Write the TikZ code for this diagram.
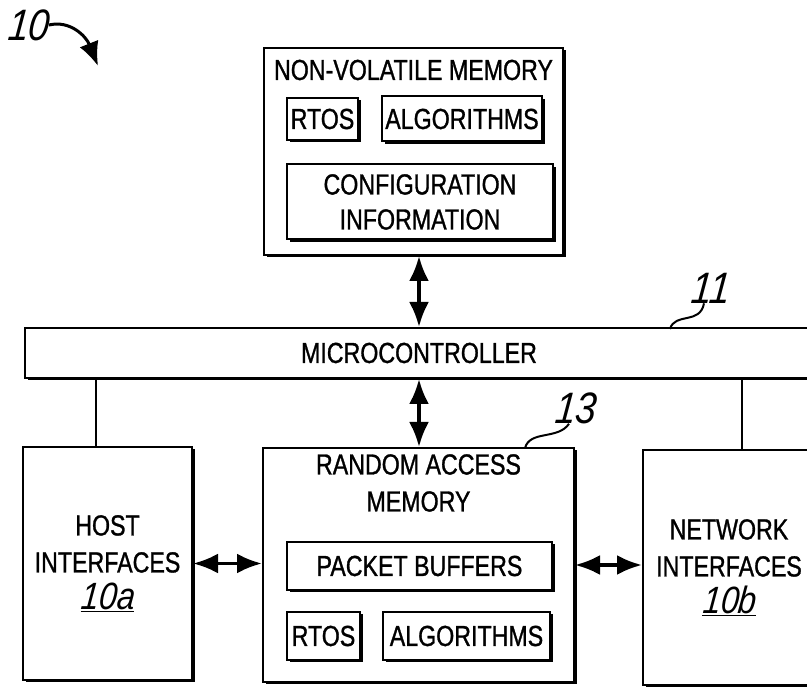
\documentclass[tikz,border=0pt]{standalone}
\usepackage{fontspec}
\setmainfont[FakeStretch=0.8,FakeBold=1]{Liberation Sans}
\newfontfamily\numfont[FakeStretch=0.85,FakeSlant=0.1]{Liberation Sans}
\usetikzlibrary{arrows.meta,shadows}
\begin{document}
\begin{tikzpicture}[
x=1pt,
y=-1pt,
blk/.style={%
draw,
line width=2pt,
fill=white,
inner sep=0pt,
drop shadow={shadow xshift=2.5pt,shadow yshift=-2.5pt,opacity=1,fill=black},
},
sub/.style={%
blk,
font=\fontsize{29}{35}\selectfont,
},
txt/.style={%
align=center,
inner sep=0pt,
font=\fontsize{29}{37}\selectfont,
},
ref/.style={%
inner sep=0pt,
font=\fontsize{44}{46}\numfont\itshape,
},
bus/.style={%
arrows={Latex[length=25pt,width=20pt]-Latex[length=25pt,width=20pt]},
line width=3.5pt,
},
wire/.style={%
line width=2pt,
}
]
\useasboundingbox(0,0)rectangle(807,692);
%% Non-volatile memory
\node[blk,minimum width=299pt,minimum height=207pt]at(413.5,151.5)(nvm){};
\node[txt]at(413.5,70)(nvm_t){NON-VOLATILE MEMORY};
\node[sub,minimum width=71pt,minimum height=42pt]at(322.5,119)(nvm_rtos){RTOS};
\node[sub,minimum width=160pt,minimum height=45pt]at(462,119)(nvm_alg){ALGORITHMS};
\node[sub,align=center,minimum width=266pt,minimum height=75pt]at(420,202)(nvm_cfg){CONFIGURATION\\INFORMATION};
%% Microcontroller
\node[blk,txt,minimum width=788pt,minimum height=50pt]at(419,353)(mcu){MICROCONTROLLER};
%% Random access memory
\node[blk,minimum width=311pt,minimum height=234pt]at(418.5,565)(ram){};
\node[txt]at(418.5,483)(ram_t){RANDOM ACCESS\\MEMORY};
\node[sub,minimum width=265pt,minimum height=48pt]at(419.5,566)(pkt){PACKET BUFFERS};
\node[sub,minimum width=73pt,minimum height=48pt]at(323.5,636)(ram_rtos){RTOS};
\node[sub,minimum width=167pt,minimum height=48pt]at(466.5,636)(ram_alg){ALGORITHMS};
%% Interfaces
\node[blk,txt,minimum width=169pt,minimum height=233pt]at(107.5,563.5)(host){HOST\\INTERFACES\\{\fontsize{38}{40}\numfont\itshape\underline{10a}}};
\node[blk,txt,minimum width=172pt,minimum height=235pt]at(729,567.5)(net){NETWORK\\INTERFACES\\{\fontsize{38}{40}\numfont\itshape\underline{10b}}};
%% Connectors
\draw[bus](mcu.north)--(mcu.north|-nvm.south);
\draw[bus](mcu.south)--(mcu.south|-ram.north);
\draw[bus](host.east)--(host.east-|ram.west);
\draw[bus](ram.east)--(ram.east-|net.west);
\draw[wire]([xshift=-12pt]host.north)--([xshift=-12pt]host.north|-mcu.south);
\draw[wire]([xshift=13pt]net.north)--([xshift=13pt]net.north|-mcu.south);
%% Reference numerals
\node[ref]at(28,25)(r10){10};
\coordinate(r10_tip)at(98,66);
\draw[line width=3pt,-{Latex[length=24pt,width=20pt]}](r10.east)..controls(70,20)and(86,36)..(r10_tip);
\node[ref]at(710,288)(r11){11};
\coordinate(r11_foot)at(670,329);
\draw[wire](r11_foot)..controls(675,312)and(700,325)..([xshift=-6pt]r11.south);
\node[ref]at(575,408)(r13){13};
\coordinate(r13_foot)at(525,448);
\draw[wire](r13_foot)..controls(530,430)and(558,440)..([xshift=-6pt]r13.south);
\end{tikzpicture}
\end{document}
